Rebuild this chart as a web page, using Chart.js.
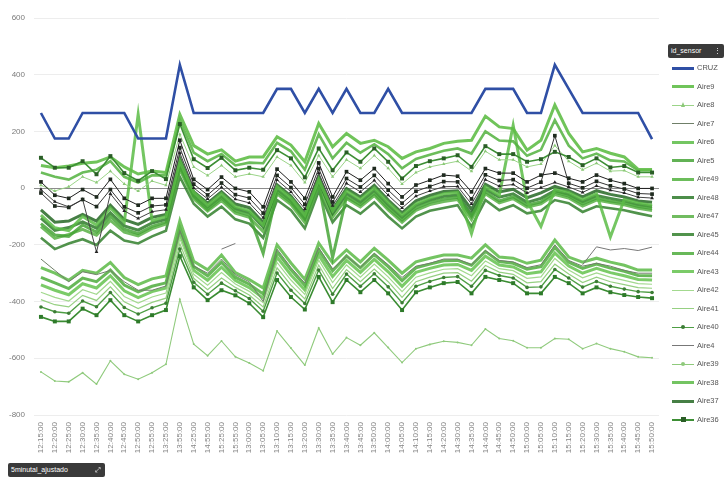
<!DOCTYPE html>
<html>
<head>
<meta charset="utf-8">
<script src="https://cdn.jsdelivr.net/npm/chart.js@4.4.1/dist/chart.umd.min.js"></script>
<style>
  body { margin: 0; background: #fff; font-family: "Liberation Sans", Arial, sans-serif; }
  #wrap { position: relative; width: 724px; height: 477px; overflow: hidden; }
  #c { position: absolute; left: 0; top: 0; }
  .slicer { position: absolute; background: #3a3a3a; color: #fff; font-size: 7px; height: 14px; line-height: 14px;
            border-radius: 2px; padding-left: 3px; box-sizing: border-box; white-space: nowrap; }
  .item { position: absolute; left: 668px; width: 56px; height: 12px; font-size: 7.5px; color: #555; }
  .item .ln { position: absolute; left: 4px; width: 22px; }
  .item .mk { position: absolute; }
  .item .tx { position: absolute; left: 29px; top: 0; line-height: 12px; }
</style>
</head>
<body>
<div id="wrap">
  <canvas id="c" width="724" height="477"></canvas>
  <div class="slicer" style="left:668px;top:44px;width:56px;">id_sensor<span style="position:absolute;right:3px;">&#8942;</span></div>
  <div class="slicer" style="left:8px;top:463px;width:97px;">5minutal_ajustado<span style="position:absolute;right:4px;">&#10530;</span></div>
  <div id="legend"></div>
</div>
<script>
const labels = ['12:15:00','12:20:00','12:25:00','12:30:00','12:35:00','12:40:00','12:45:00','12:50:00','12:55:00',
  '13:25:00','13:55:00','14:25:00','14:55:00','15:25:00','15:55:00','13:00:00','13:05:00','13:10:00','13:15:00',
  '13:20:00','13:30:00','13:35:00','13:40:00','13:45:00','13:50:00','14:00:00','14:05:00','14:10:00','14:15:00',
  '14:20:00','14:30:00','14:35:00','14:40:00','14:45:00','14:50:00','15:00:00','15:05:00','15:10:00','15:15:00',
  '15:20:00','15:30:00','15:35:00','15:40:00','15:45:00','15:50:00'];

const yTicks = [600, 400, 200, 0, -200, -400, -600, -800];

const cruz = [265,175,175,265,265,265,265,175,175,175, 435,265,265,265,265,265,265,350,350,265,
  350,265,350,265,265,350,265,265,265,265, 265,265,350,350,350,265,265,435,350,265, 265,265,265,265,173];

// upper group
const aire9 = [80,72,78,88,92,110,75,50,60,55, 260,150,120,135,95,110,110,181,152,93,
  228,146,193,158,169,146,105,128,140,158, 165,169,254,216,210,134,169,293,193,128, 140,123,110,66,66];
const aire49 = [55,40,30,55,65,95,40,20,45,45, 240,125,95,120,80,90,88,160,130,65,
  190,105,160,125,155,120,70,103,118,132, 140,122,200,168,165,114,135,240,150,105, 122,98,94,62,62];
const aire36 = [107,72,72,95,49,113,53,26,60,32, 226,102,71,107,63,72,65,134,105,38,
  140,63,126,93,140,93,34,78,95,105, 116,75,148,120,120,93,102,128,110,81, 105,73,78,55,55];
const aire8 = [10,-10,5,40,20,60,15,-10,25,10, 190,75,45,80,40,50,40,110,80,20,
  115,40,100,70,115,70,15,55,75,85, 95,60,130,100,100,75,85,150,95,65, 88,60,62,40,40];

// middle group
const aire34 = [22,-25,-36,-5,-31,31,-36,-60,-36,-36, 169,31,-5,39,-1,-13,-66,67,22,-36,
  89,-31,58,28,69,16,-31,11,28,46, 42,-13,69,53,53,22,46,53,35,22, 46,28,16,-1,-1];
const aire33 = [-17,-63,-68,-40,-65,-5,-66,-87,-63,-59, 143,14,-24,18,-23,-35,-88,45,2,-57,
  69,-49,34,4,45,-7,-53,-11,6,23, 22,-38,47,27,30,0,21,185,17,1, 24,8,-3,-19,-21];
const aire32 = [-5,-48,-66,-40,-225,-20,-80,-107,-83,-76, 124,1,-38,3,-39,-52,-104,29,-13,-73,
  54,-62,17,-13,27,-25,-70,-28,-10,5, 6,-56,30,7,13,-17,2,20,4,-15, 8,-7,-17,-32,-35];
const aire37 = [-77,-120,-116,-93,-116,-60,-111,-128,-103,-93, 105,-12,-53,-13,-56,-69,-121,12,-28,-89,
  40,-76,-1,-31,10,-42,-87,-45,-26,-12, -9,-75,14,-13,-4,-34,-17,6,-9,-31, -9,-22,-31,-45,-50];
const aire48 = [-106,-149,-139,-119,-141,-87,-133,-148,-123,-110, 85,-25,-67,-29,-72,-86,-137,-4,-43,-105,
  25,-89,-19,-49,-8,-59,-103,-61,-42,-29, -24,-93,-3,-32,-20,-50,-36,-9,-22,-47, -26,-36,-45,-58,-65];
const aire47 = [-136,-177,-163,-145,-166,-114,-155,-168,-143,-127, 66,-38,-81,-44,-88,-103,-153,-20,-58,-121,
  10,-102,-36,-66,-26,-77,-120,-78,-58,-47, -40,-111,-20,-52,-37,-67,-55,-23,-35,-63, -42,-51,-59,-71,-79];
const aire45 = [-175,-215,-195,-180,-200,-150,-185,-195,-170,-150, 40,-55,-100,-65,-110,-125,-175,-42,-78,-142,
  -10,-120,-60,-90,-50,-100,-142,-100,-80,-70, -60,-136,-42,-78,-60,-89,-80,-42,-53,-84, -64,-71,-78,-89,-99];
const aire6 = [-95,-140,-150,-100,-130,-70,-120,260,-115,-100, 95,-15,-60,-20,-65,-80,-130,5,-35,-95,
  30,-80,-10,-40,0,-50,-95,-55,-35,-20, -15,-160,5,-25,222,-45,-135,-5,-15,-40, -20,-172,-40,-52,-60];
const aire5 = [-125,-165,-170,-130,-155,-100,-145,-160,-135,-120, 75,-30,-75,-35,-80,-95,-230,-12,-50,-110,
  15,-245,-30,-58,-18,-70,-112,-70,-50,-38, -32,-100,-12,-45,-30,-60,-48,-15,-28,-55, -35,-45,-52,-65,-72];

// lower group
const aire7 = [-250,-290,-330,-295,-305,-290,-330,-360,-360,-345, -150,-275,-300,-250,-305,-330,-400,-215,-280,-335,
  -210,-285,-240,-280,-230,-270,-315,-275,-265,-250, -250,-270,-220,-255,-260,-280,-270,-200,-255,-275, -265,-275,-290,-300,-300];
const aire38 = [-280,-300,-325,-290,-300,-262,-315,-340,-320,-310, -115,-258,-288,-236,-298,-322,-352,-200,-264,-322,
  -194,-264,-218,-260,-212,-254,-300,-260,-247,-236, -236,-247,-200,-243,-247,-265,-254,-183,-243,-261, -247,-261,-272,-289,-289];
const aire44 = [-315,-334,-354,-317,-330,-289,-342,-366,-346,-334, -140,-276,-309,-261,-314,-339,-373,-225,-288,-343,
  -218,-292,-239,-281,-234,-277,-326,-281,-268,-256, -255,-272,-223,-259,-265,-286,-277,-209,-261,-283, -268,-282,-293,-308,-309];
const aire43 = [-341,-360,-376,-337,-352,-309,-362,-386,-365,-352, -159,-290,-325,-279,-326,-351,-388,-243,-306,-359,
  -236,-312,-255,-297,-251,-295,-346,-297,-283,-271, -269,-290,-240,-271,-278,-302,-295,-229,-275,-300, -283,-298,-309,-322,-324];
const aire42 = [-367,-385,-398,-358,-374,-329,-382,-405,-384,-370, -178,-304,-342,-298,-338,-364,-404,-262,-324,-375,
  -254,-333,-271,-314,-268,-313,-365,-314,-299,-286, -284,-309,-257,-284,-291,-318,-313,-248,-289,-316, -299,-314,-325,-337,-339];
const aire41 = [-393,-411,-419,-378,-396,-348,-401,-425,-403,-388, -196,-318,-358,-317,-350,-377,-419,-281,-342,-391,
  -271,-354,-287,-330,-285,-330,-385,-330,-314,-300, -298,-328,-273,-296,-304,-334,-330,-268,-303,-333, -314,-330,-340,-351,-353];
const aire40 = [-419,-436,-441,-398,-418,-368,-421,-444,-422,-406, -215,-332,-374,-335,-362,-389,-434,-299,-360,-407,
  -289,-374,-303,-346,-302,-348,-404,-346,-329,-315, -312,-346,-290,-308,-317,-350,-348,-287,-317,-349, -329,-346,-356,-365,-368];
const aire35 = [-454,-470,-470,-425,-448,-395,-448,-470,-448,-430, -240,-350,-395,-360,-378,-406,-455,-324,-384,-428,
  -313,-402,-324,-367,-324,-371,-430,-367,-350,-335, -331,-371,-313,-324,-335,-371,-371,-313,-335,-371, -350,-367,-377,-384,-388];
const aire4 = [null,null,null,null,null,null,null,null,null,null, null,null,null,-215,-195,null,null,null,null,null,
  null,null,null,null,null,null,null,null,null,null, null,null,null,null,null,null,null,null,null,-270, -207,-218,-213,-220,-208];
const aire39 = [-648,-680,-683,-651,-691,-609,-656,-674,-651,-621, -392,-550,-591,-539,-595,-617,-644,-504,-564,-624,
  -493,-585,-527,-554,-510,-562,-615,-566,-551,-540, -544,-554,-497,-530,-538,-563,-563,-530,-533,-566, -548,-566,-577,-595,-598];

const legendNames = ['CRUZ','Aire9','Aire8','Aire7','Aire6','Aire5','Aire49','Aire48','Aire47','Aire45',
  'Aire44','Aire43','Aire42','Aire41','Aire40','Aire4','Aire39','Aire38','Aire37','Aire36'];

// drawing order: first entry ends up on top
const series = [
  ['CRUZ', cruz, { color: '#2f4fa5', width: 2.6 }],
  ['Aire34', aire34, { color: '#1f1f1f', width: 1, point: 'rect', r: 2.6, pc: '#1f2a1f' }],
  ['Aire33', aire33, { color: '#333', width: 1, point: 'rect', r: 2.6, pc: '#1f2a1f' }],
  ['Aire32', aire32, { color: '#444', width: 1, point: 'triangle', r: 2.2, pc: '#222' }],
  ['Aire36', aire36, { color: '#3d8f35', width: 1.6, point: 'rect', r: 2.8, pc: '#2b5e27' }],
  ['Aire35', aire35, { color: '#3a8c32', width: 1.6, point: 'rect', r: 2.8, pc: '#2e7a2a' }],
  ['Aire8', aire8, { color: '#9bd488', width: 1, point: 'triangle', r: 2, pc: '#8cc878' }],
  ['Aire40', aire40, { color: '#4e9e44', width: 1.4, point: 'circle', r: 1.8, pc: '#3c7d35' }],
  ['Aire39', aire39, { color: '#8fca7c', width: 1.1, point: 'circle', r: 1, pc: '#8fca7c' }],
  ['Aire4', aire4, { color: '#777', width: 1 }],
  ['Aire7', aire7, { color: '#6f7f68', width: 1 }],
  ['Aire42', aire42, { color: '#a3d98f', width: 1.2 }],
  ['Aire41', aire41, { color: '#96d082', width: 1.2 }],
  ['Aire9', aire9, { color: 'rgba(96,190,72,0.9)', width: 3 }],
  ['Aire49', aire49, { color: 'rgba(82,178,62,0.85)', width: 2.6 }],
  ['Aire6', aire6, { color: 'rgba(92,188,70,0.85)', width: 3 }],
  ['Aire5', aire5, { color: 'rgba(70,165,55,0.85)', width: 3 }],
  ['Aire37', aire37, { color: 'rgba(38,104,36,0.85)', width: 3 }],
  ['Aire48', aire48, { color: 'rgba(46,122,42,0.85)', width: 3 }],
  ['Aire47', aire47, { color: 'rgba(88,176,68,0.85)', width: 3 }],
  ['Aire45', aire45, { color: 'rgba(50,128,45,0.85)', width: 2.6 }],
  ['Aire38', aire38, { color: 'rgba(92,186,70,0.85)', width: 3 }],
  ['Aire44', aire44, { color: 'rgba(78,172,60,0.85)', width: 3 }],
  ['Aire43', aire43, { color: 'rgba(100,194,78,0.85)', width: 3 }],
];

const datasets = series.map(([name, data, s]) => ({
  label: name,
  data,
  borderColor: s.color,
  backgroundColor: s.pc || s.color,
  borderWidth: s.width,
  pointStyle: s.point || 'circle',
  pointRadius: s.point ? s.r : 0,
  pointBorderWidth: 0,
  tension: 0,
  spanGaps: false,
}));

new Chart(document.getElementById('c'), {
  type: 'line',
  data: { labels, datasets },
  options: {
    responsive: false,
    devicePixelRatio: 1,
    animation: false,
    events: [],
    layout: { padding: { top: 18, right: 65, left: 0, bottom: 0 } },
    plugins: { legend: { display: false }, tooltip: { enabled: false } },
    scales: {
      x: {
        offset: true,
        grid: { display: false, drawTicks: false },
        border: { display: false },
        ticks: {
          autoSkip: false, minRotation: 90, maxRotation: 90, padding: 7,
          color: '#858585', font: { size: 8, family: 'Liberation Sans' },
        },
        afterFit: (scale) => { scale.height = 62; },
      },
      y: {
        min: yTicks[yTicks.length - 1],
        max: yTicks[0],
        ticks: {
          stepSize: 200, padding: 9,
          color: '#7a7a7a', font: { size: 8, family: 'Liberation Sans' },
        },
        grid: {
          drawTicks: false,
          color: (ctx) => (ctx.tick && ctx.tick.value === 0 ? '#8c8c8c' : '#ededed'),
          lineWidth: 1,
        },
        border: { display: false },
        afterFit: (scale) => { scale.width = 34; },
      },
    },
  },
});

// slicer-style legend on the right
const legend = document.getElementById('legend');
const byName = {};
series.forEach(([name, , s]) => { byName[name] = s; });
legendNames.forEach((name, k) => {
  const s = byName[name];
  const item = document.createElement('div');
  item.className = 'item';
  item.style.top = (62 + k * 18.5) + 'px';
  const ln = document.createElement('div');
  ln.className = 'ln';
  const w = Math.max(1, Math.round(s.width));
  ln.style.height = w + 'px';
  ln.style.top = (6 - w / 2) + 'px';
  ln.style.background = s.color;
  item.appendChild(ln);
  if (s.point) {
    const mk = document.createElement('div');
    mk.className = 'mk';
    if (s.point === 'triangle') {
      mk.style.cssText = 'left:13px;top:3px;width:0;height:0;border-left:2.5px solid transparent;border-right:2.5px solid transparent;border-bottom:5px solid ' + s.pc + ';';
    } else {
      const d = s.point === 'rect' ? 5 : 4;
      mk.style.cssText = 'left:' + (15 - d / 2) + 'px;top:' + (6 - d / 2) + 'px;width:' + d + 'px;height:' + d + 'px;background:' + s.pc + ';' + (s.point === 'circle' ? 'border-radius:50%;' : '');
    }
    item.appendChild(mk);
  }
  const tx = document.createElement('span');
  tx.className = 'tx';
  tx.textContent = name;
  item.appendChild(tx);
  legend.appendChild(item);
});
</script>
</body>
</html>
